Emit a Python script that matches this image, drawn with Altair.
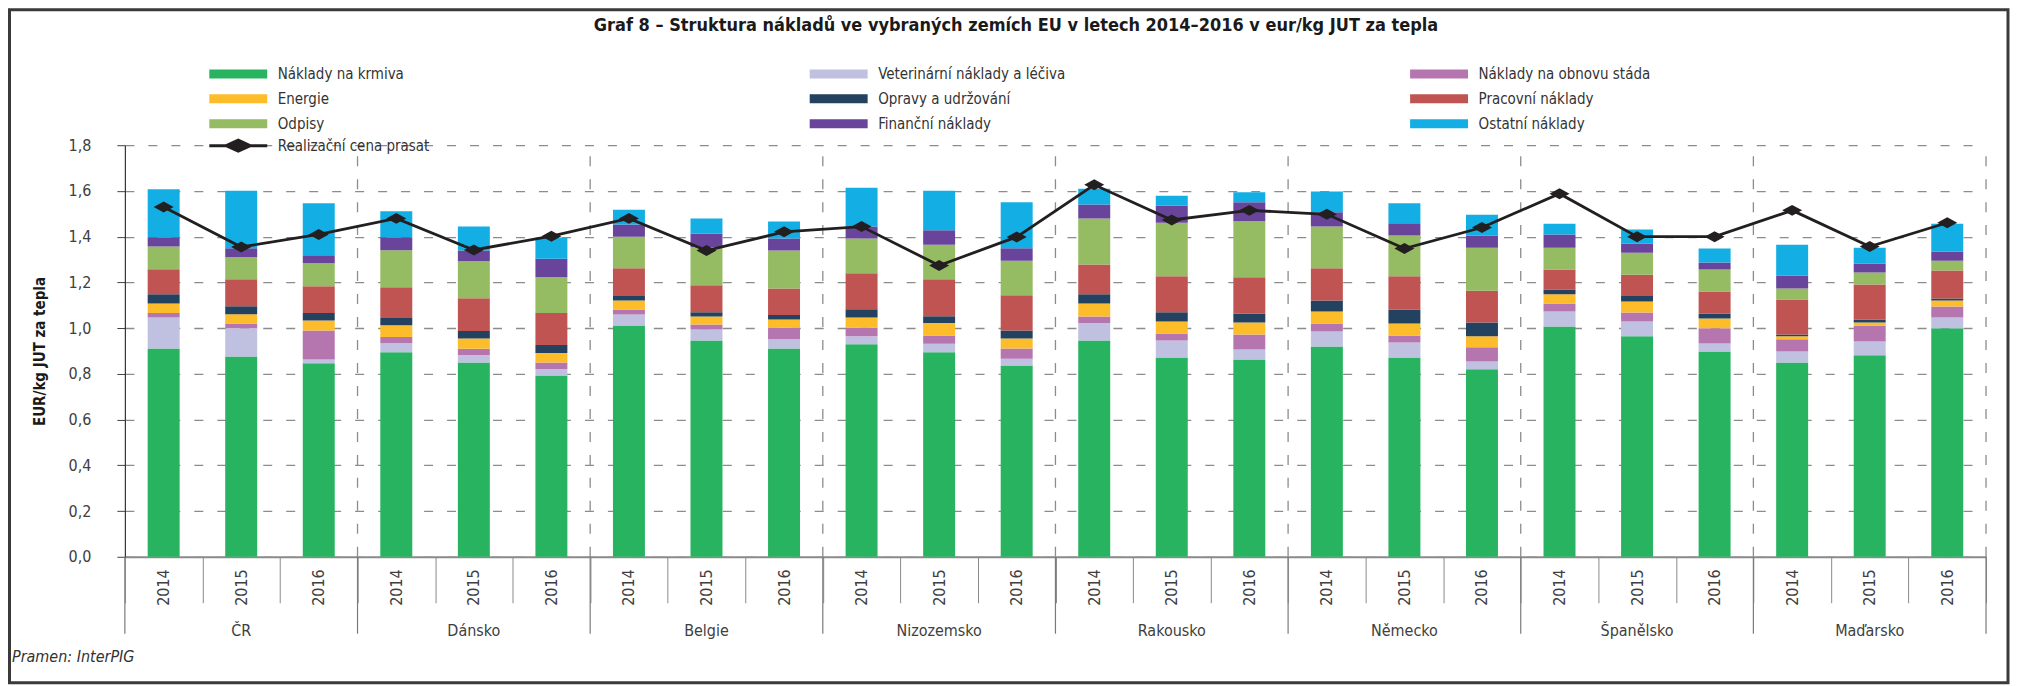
import altair as alt
import pandas as pd

countries = ["ČR", "Dánsko", "Belgie", "Nizozemsko", "Rakousko", "Německo", "Španělsko", "Maďarsko"]
years = ["2014", "2015", "2016"]
categories = [
    "Náklady na krmiva", "Veterinární náklady a léčiva", "Náklady na obnovu stáda",
    "Energie", "Opravy a udržování", "Pracovní náklady",
    "Odpisy", "Finanční náklady", "Ostatní náklady",
]
colors = ["#27b35f", "#c0c0e0", "#b576b0", "#fdbd2b", "#22425f", "#c05452", "#95bb63", "#68449b", "#12aee4"]

# values per country (ČR, Dánsko, Belgie, Nizozemsko, Rakousko, Německo, Španělsko, Maďarsko) x (2014, 2015, 2016)
krmiva = [0.911, 0.876, 0.846, 0.894, 0.850, 0.793, 1.012, 0.946, 0.911, 0.929, 0.894, 0.837,
          0.946, 0.872, 0.863, 0.920, 0.872, 0.820, 1.007, 0.964, 0.898, 0.850, 0.881, 0.999]
veterinarni = [0.136, 0.123, 0.017, 0.040, 0.032, 0.028, 0.048, 0.048, 0.040, 0.035, 0.038, 0.029,
               0.076, 0.074, 0.044, 0.065, 0.065, 0.034, 0.066, 0.065, 0.035, 0.048, 0.061, 0.048]
obnova = [0.019, 0.021, 0.127, 0.027, 0.028, 0.029, 0.022, 0.022, 0.052, 0.039, 0.036, 0.045,
          0.029, 0.031, 0.065, 0.035, 0.031, 0.062, 0.035, 0.039, 0.066, 0.053, 0.070, 0.048]
energie = [0.042, 0.041, 0.043, 0.052, 0.045, 0.041, 0.039, 0.035, 0.035, 0.044, 0.054, 0.044,
           0.057, 0.052, 0.053, 0.053, 0.052, 0.048, 0.040, 0.048, 0.043, 0.013, 0.013, 0.026]
opravy = [0.040, 0.035, 0.033, 0.031, 0.032, 0.035, 0.019, 0.019, 0.019, 0.036, 0.030, 0.035,
          0.040, 0.041, 0.039, 0.048, 0.062, 0.061, 0.021, 0.024, 0.022, 0.008, 0.013, 0.009]
pracovni = [0.110, 0.118, 0.117, 0.135, 0.144, 0.140, 0.122, 0.118, 0.116, 0.157, 0.162, 0.154,
            0.130, 0.157, 0.159, 0.141, 0.145, 0.139, 0.087, 0.094, 0.096, 0.153, 0.153, 0.122]
odpisy = [0.099, 0.096, 0.101, 0.162, 0.162, 0.157, 0.138, 0.167, 0.166, 0.152, 0.151, 0.151,
          0.201, 0.234, 0.244, 0.183, 0.178, 0.188, 0.096, 0.096, 0.096, 0.048, 0.052, 0.043]
financni = [0.040, 0.039, 0.035, 0.056, 0.046, 0.080, 0.053, 0.058, 0.053, 0.052, 0.063, 0.054,
            0.062, 0.075, 0.083, 0.062, 0.054, 0.053, 0.057, 0.040, 0.031, 0.057, 0.039, 0.040]
ostatni = [0.210, 0.252, 0.227, 0.114, 0.105, 0.093, 0.065, 0.066, 0.074, 0.170, 0.173, 0.201,
           0.069, 0.043, 0.044, 0.090, 0.087, 0.091, 0.048, 0.061, 0.061, 0.135, 0.070, 0.122]
cena = [1.530, 1.355, 1.410, 1.480, 1.342, 1.402, 1.480, 1.339, 1.421, 1.444, 1.274, 1.399,
        1.627, 1.473, 1.515, 1.498, 1.348, 1.440, 1.588, 1.400, 1.400, 1.515, 1.357, 1.461]
price_label = "Realizační cena prasat"
y_ticks = [0.0, 0.2, 0.4, 0.6, 0.8, 1.0, 1.2, 1.4, 1.6, 1.8]
title_text = "Graf 8 – Struktura nákladů ve vybraných zemích EU v letech 2014–2016 v eur/kg JUT za tepla"
source_text = "Pramen: InterPIG"

FONT = "Liberation Sans Narrow, DejaVu Sans Condensed, sans-serif"
W, H = 1863, 412

keys = [f"{c}|{y}" for c in countries for y in years]
series = [krmiva, veterinarni, obnova, energie, opravy, pracovni, odpisy, financni, ostatni]

bar_rows = []
for i, key in enumerate(keys):
    for k, (cat, vals) in enumerate(zip(categories, series)):
        bar_rows.append({"key": key, "kategorie": cat, "poradi": k, "hodnota": vals[i]})
bars_df = pd.DataFrame(bar_rows)
price_df = pd.DataFrame({"key": keys, "cena": cena, "serie": [price_label] * len(keys)})
group_df = pd.DataFrame({"key": [f"{c}|2015" for c in countries], "zeme": countries})
left_df = pd.DataFrame({"key": [f"{c}|2014" for c in countries], "y0": [0.0] * 8, "y1": [1.8] * 8})
inner_df = left_df.iloc[1:]
right_df = pd.DataFrame({"key": [keys[-1]], "y0": [0.0], "y1": [1.8]})

xscale = alt.Scale(domain=keys, paddingInner=0, paddingOuter=0)
yscale = alt.Scale(domain=[0, 1.8], nice=False)

x_axis = alt.Axis(
    title=None, labelExpr="split(datum.value, '|')[1]", labelAngle=270,
    labelFontSize=16, labelFont=FONT, labelColor="#404040",
    tickSize=46, tickColor="#8a8a8a", tickWidth=1, tickBand="extent",
    labelPadding=-34, domainColor="#8a8a8a", domainWidth=2, grid=False,
)
y_axis = alt.Axis(
    title="EUR/kg JUT za tepla", values=y_ticks,
    labelExpr="replace(format(datum.value, '.1f'), '.', ',')",
    labelFontSize=16, labelFont=FONT, labelColor="#404040",
    tickSize=8, tickColor="#404040", labelPadding=26,
    domainColor="#333333", domainWidth=1.2,
    grid=True, gridDash=[9, 14], gridColor="#8c8c8c", gridWidth=1.3,
    titleX=-85, titleY=H / 2, titleAngle=270, titleBaseline="middle", titleAlign="center",
    titleFontSize=15, titleFontWeight="bold", titleFont=FONT, titleColor="#1a1a1a",
)

bars = alt.Chart(bars_df).mark_bar(width=32, opacity=1).encode(
    x=alt.X("key:N", scale=xscale, axis=x_axis),
    y=alt.Y("hodnota:Q", scale=yscale, axis=y_axis, stack="zero"),
    fill=alt.Fill("kategorie:N", scale=alt.Scale(domain=categories, range=colors),
                  legend=alt.Legend(
                      title=None, orient="none", legendX=106, legendY=-79, columns=3,
                      direction="horizontal",
                      gridAlign="all", columnPadding=344, rowPadding=9,
                      symbolType="M-5.8,-0.9H5.8V0.9H-5.8Z", symbolSize=100,
                      symbolStrokeWidth=0, symbolOpacity=1, labelOffset=32,
                      labelFontSize=15, labelFont=FONT, labelColor="#333333",
                      padding=0, labelLimit=400)),
    order=alt.Order("poradi:Q", sort="ascending"),
)

line = alt.Chart(price_df).mark_line(strokeWidth=2.8).encode(
    x=alt.X("key:N", scale=xscale),
    y=alt.Y("cena:Q", scale=yscale),
    stroke=alt.Stroke("serie:N", scale=alt.Scale(domain=[price_label], range=["#231f20"]),
                      legend=alt.Legend(
                          title=None, orient="none", legendX=106, legendY=-7,
                          symbolType="M-5.8,0H5.8M-2.4,0L0,-1.1L2.4,0L0,1.1Z", symbolSize=100,
                          symbolStrokeWidth=3, symbolFillColor="#231f20", labelOffset=32,
                          labelFontSize=15, labelFont=FONT, labelColor="#333333",
                          padding=0, labelLimit=400)),
)
points = alt.Chart(price_df).mark_point(
    shape="M-1,0L0,-0.55L1,0L0,0.55Z", filled=True, size=400, color="#231f20", opacity=1
).encode(
    x=alt.X("key:N", scale=xscale),
    y=alt.Y("cena:Q", scale=yscale),
)

vlines = alt.Chart(inner_df).mark_rule(strokeDash=[10, 13], color="#8c8c8c", strokeWidth=1.3).encode(
    x=alt.X("key:N", scale=xscale, bandPosition=0),
    y=alt.Y("y0:Q", scale=yscale), y2="y1:Q",
)
vline_right = alt.Chart(right_df).mark_rule(strokeDash=[10, 13], color="#8c8c8c", strokeWidth=1.3).encode(
    x=alt.X("key:N", scale=xscale, bandPosition=1),
    y=alt.Y("y0:Q", scale=yscale), y2="y1:Q",
)
sep_below = alt.Chart(left_df).mark_rule(color="#7a7a7a", strokeWidth=1.2).encode(
    x=alt.X("key:N", scale=xscale, bandPosition=0),
    y=alt.value(H), y2=alt.value(H + 77),
)
sep_below_right = alt.Chart(right_df).mark_rule(color="#7a7a7a", strokeWidth=1.2).encode(
    x=alt.X("key:N", scale=xscale, bandPosition=1),
    y=alt.value(H), y2=alt.value(H + 77),
)
country_text = alt.Chart(group_df).mark_text(
    fontSize=16, font=FONT, color="#404040", baseline="middle", align="center"
).encode(
    x=alt.X("key:N", scale=xscale),
    y=alt.value(H + 74),
    text="zeme:N",
)
caption = alt.Chart(pd.DataFrame({"t": [source_text]})).mark_text(
    fontSize=16, font=FONT, fontStyle="italic", color="#333333", align="left", baseline="middle"
).encode(x=alt.value(-113), y=alt.value(H + 100), text="t:N")
title = alt.Chart(pd.DataFrame({"t": [title_text]})).mark_text(
    fontSize=18, font=FONT, fontWeight="bold", color="#1a1a1a", align="center", baseline="middle"
).encode(x=alt.value(892), y=alt.value(-119), text="t:N")
frame = alt.Chart(pd.DataFrame({"a": [0]})).mark_rect(
    filled=False, stroke="#3a3a3a", strokeWidth=3
).encode(x=alt.value(-115.5), x2=alt.value(W + 22), y=alt.value(-135.5), y2=alt.value(H + 126))

chart = alt.layer(
    frame, vlines, vline_right, sep_below, sep_below_right, bars, line, points,
    country_text, caption, title
).properties(
    width=W, height=H,
    autosize=alt.AutoSizeParams(type="none"),
    padding={"left": 117, "top": 137, "right": 25, "bottom": 135},
    background="white",
).configure_view(strokeWidth=0)

chart.save("out.html", embed_options={"renderer": "svg", "actions": False})
